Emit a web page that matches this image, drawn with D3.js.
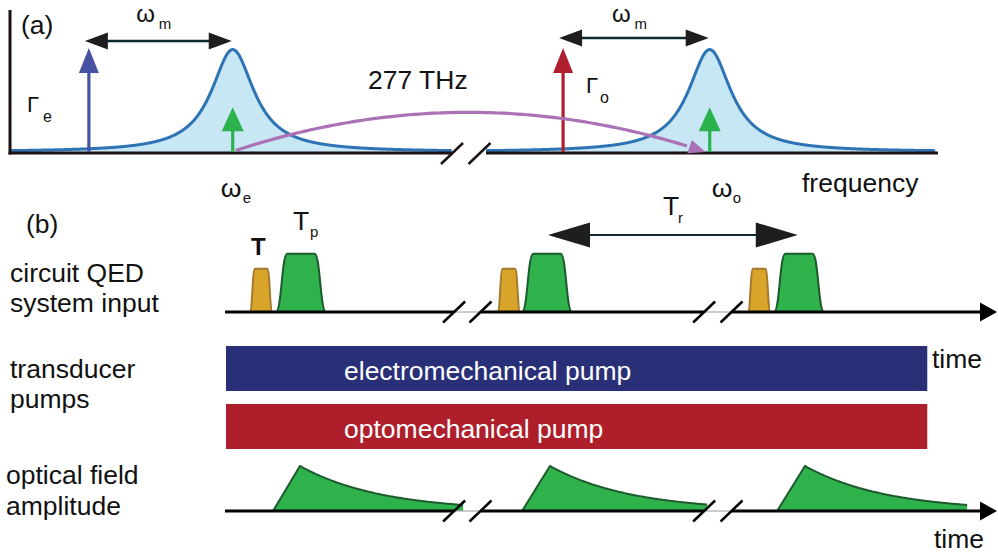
<!DOCTYPE html>
<html>
<head>
<meta charset="utf-8">
<script src="https://cdn.jsdelivr.net/npm/d3@7"></script>
<style>
  body { margin: 0; background: #fff; }
  svg { display: block; }
  text { font-family: "Liberation Sans", Arial, Helvetica, sans-serif; fill: #111; }
</style>
</head>
<body>
<svg id="fig" width="998" height="554"></svg>
<script>
// ---------- (a) spectrum, frequency in arbitrary units ----------
const modeSubs = ["e", "o"];              // electrical / optical mode
const modeCenters = [24.0, 75.4];
const modeWidths = [2.8, 2.8];            // half width at half maximum
const modePeak = 0.985;
const pumpSubs = ["e", "o"];
const pumpFreqs = [8.5, 59.6];            // red-detuned pumps, one ωm below each mode
const pumpHeight = 1.0;
const signalHeight = 0.43;
const couplingLift = 0.755;               // bow of the 277 THz conversion arc
const freqBreak = [47.6, 51.3];
const freqEnd = 99.7;
const spectrumLabel = "277 THz";

// ---------- (b) timing, time in arbitrary units ----------
const timeEnd = 31;
const timeBreaks = [[9.2, 10.26], [19.24, 20.34]];
const qubitPulseStarts = [1.0, 10.95, 21.0];     // short "T" pulse
const qubitPulseWidth = 0.9;
const qubitPulseHeight = 0.72;
const swapPulseStarts = [2.05, 11.93, 22.05];    // "Tp" pulse
const swapPulseWidth = 2.0;
const swapPulseHeight = 0.97;
const emissionStarts = [1.93, 11.93, 22.17];
const emissionPeaks = [3.01, 13.05, 23.29];
const emissionEnds = [9.56, 19.36, 29.8];
const emissionHeight = 0.75;
const emissionDecay = 3.25;
const pumpSpan = [0.04, 28.2];
const pumpNames = ["electromechanical pump", "optomechanical pump"];
const repetition = [12.97, 23.0];                 // Tr
const rowLabels = [["circuit QED", "system input"], ["transducer", "pumps"], ["optical field", "amplitude"]];

// ---------- styles ----------
const C = {
  ink: "#111", axis: "#1a1214", curve: "#2e74b5", fill: "#c6e7f3",
  pumpE: "#4752a2", pumpO: "#b01f2e", signal: "#2bb24c", arc: "#ab72b6",
  span: "#0e2a30", head: "#1e1e1e",
  gold: "#d9a42a", goldEdge: "#a47a30", green: "#2fb24c", greenEdge: "#1d5a2e",
  barE: "#2a3077", barO: "#ae1f2b", grey: "#aaa"
};
const FS = 26.5;
const svg = d3.select("#fig");

function txt(x, y, s, size, opts = {}) {
  const t = svg.append("text").attr("x", x).attr("y", y).attr("font-size", size).text(s);
  if (opts.weight) t.attr("font-weight", opts.weight);
  if (opts.fill) t.style("fill", opts.fill);
  return t;
}
function line(x1, y1, x2, y2, color, w) {
  return svg.append("line").attr("x1", x1).attr("y1", y1).attr("x2", x2).attr("y2", y2)
    .attr("stroke", color).attr("stroke-width", w);
}
function tri(pts, color) {
  svg.append("path").attr("d", "M" + pts.map(p => p.join(",")).join("L") + "Z").attr("fill", color);
}
// vertical arrow pointing up
function upArrow(x, yBase, yTip, color, headLen, headHalf, w) {
  line(x, yBase, x, yTip + headLen - 1, color, w);
  tri([[x, yTip], [x - headHalf, yTip + headLen], [x + headHalf, yTip + headLen]], color);
}
// horizontal double arrow
function spanArrow(x1, x2, y, lineColor, headColor, headLen, headHalf, w) {
  line(x1 + headLen - 1, y, x2 - headLen + 1, y, lineColor, w);
  tri([[x1, y], [x1 + headLen, y - headHalf], [x1 + headLen, y + headHalf]], headColor);
  tri([[x2, y], [x2 - headLen, y - headHalf], [x2 - headLen, y + headHalf]], headColor);
}
function slash(cx, cy, color) {
  line(cx - 11, cy + 10.5, cx + 11, cy - 10.5, color, 2.5);
}

// ================= panel (a) =================
const fx = d3.scaleLinear().domain([0, 100]).range([10, 938]);
const fy = d3.scaleLinear().domain([0, 1]).range([152, 48]);
const axisY = 153;

const lorentz = (f, c, g) => modePeak / (1 + ((f - c) / g) ** 2);
const pieces = [[0, freqBreak[0]], [freqBreak[1], freqEnd]];
pieces.forEach((p, i) => {
  const pts = d3.range(p[0], p[1], 0.05).concat([p[1]])
    .map(f => [f, lorentz(f, modeCenters[i], modeWidths[i])]);
  svg.append("path").datum(pts)
    .attr("d", d3.area().x(d => fx(d[0])).y0(axisY).y1(d => fy(d[1])))
    .attr("fill", C.fill);
  svg.append("path").datum(pts)
    .attr("d", d3.line().x(d => fx(d[0])).y(d => fy(d[1])))
    .attr("fill", "none").attr("stroke", C.curve).attr("stroke-width", 3);
});

// axes
line(fx(0), 10, fx(0), axisY + 1.5, C.axis, 3);
line(fx(0) - 1.5, axisY, fx(freqBreak[0]), axisY, C.axis, 3);
line(fx(freqBreak[1]), axisY, fx(100), axisY, C.axis, 3);
slash(452, axisY + 0.5, C.axis);
slash(479.5, axisY + 0.5, C.axis);

// pump tones
const pumpColors = [C.pumpE, C.pumpO];
pumpFreqs.forEach((f, i) => upArrow(fx(f), fy(0), fy(pumpHeight), pumpColors[i], 25, 10, 3.2));

// mechanical frequency spans
const spanY = [41, 38];
pumpFreqs.forEach((f, i) => {
  const x1 = fx(f) - 4, x2 = fx(modeCenters[i]) - 1;
  spanArrow(x1, x2, spanY[i], C.span, C.head, 23, 8.5, 2.6);
  const mid = (x1 + x2) / 2;
  txt(mid - 22, 22, "\u03c9", 24);
  txt(mid + 0.5, 29, "m", 15);
});

// pump labels
txt(27, 112, "\u0393", 22); txt(43, 122, pumpSubs[0], 16);
txt(586, 93, "\u0393", 22); txt(600, 103, pumpSubs[1], 16);

// conversion arc from ωe to ωo
{
  const p0 = [fx(modeCenters[0]) + 3, fy(0.015)];
  const p2 = [fx(modeCenters[1]) - 4, fy(0)];
  const pc = [(p0[0] + p2[0]) / 2, fy(couplingLift)];
  const bez = t => [
    (1 - t) ** 2 * p0[0] + 2 * t * (1 - t) * pc[0] + t * t * p2[0],
    (1 - t) ** 2 * p0[1] + 2 * t * (1 - t) * pc[1] + t * t * p2[1]
  ];
  const pts = d3.range(0, 0.965, 0.01).map(bez);
  svg.append("path").attr("d", d3.line()(pts)).attr("fill", "none")
    .attr("stroke", C.arc).attr("stroke-width", 3.2);
  const ang = Math.atan2(p2[1] - pc[1], p2[0] - pc[0]);
  const L = 17, Hh = 7;
  const bx = p2[0] - L * Math.cos(ang), by = p2[1] - L * Math.sin(ang);
  tri([p2, [bx + Hh * Math.sin(ang), by - Hh * Math.cos(ang)], [bx - Hh * Math.sin(ang), by + Hh * Math.cos(ang)]], C.arc);
}

// signal tones at the mode centres
modeCenters.forEach(c => upArrow(fx(c), fy(0), fy(signalHeight), C.signal, 24, 11, 3.2));

// labels
txt(21, 34, "(a)", FS);
txt(368, 89, spectrumLabel, FS);
txt(fx(modeCenters[0]) - 12, 197, "\u03c9", FS); txt(fx(modeCenters[0]) + 10, 203, modeSubs[0], 15);
txt(fx(modeCenters[1]) + 2, 197, "\u03c9", FS); txt(fx(modeCenters[1]) + 23, 203, modeSubs[1], 15);
txt(802, 192, "frequency", FS);

// ================= panel (b) =================
const tx = d3.scaleLinear().domain([0, timeEnd]).range([225, 997]);
const amp = d3.scaleLinear().domain([0, 1]).range([0, 60]);
const rowY = [312, null, 511];

function timeAxis(y) {
  const segs = [[0, timeBreaks[0][0]], [timeBreaks[0][1], timeBreaks[1][0]], [timeBreaks[1][1], timeEnd - 0.5]];
  timeBreaks.forEach(b => line(tx(b[0]), y, tx(b[1]), y, C.grey, 1.2));
  segs.forEach(s => line(tx(s[0]), y, tx(s[1]), y, "#000", 3));
  tri([[tx(timeEnd), y], [tx(timeEnd) - 17, y - 9.5], [tx(timeEnd) - 17, y + 9.5]], "#000");
  timeBreaks.forEach(b => { slash(tx(b[0]), y, "#000"); slash(tx(b[1]), y, "#000"); });
}

// flat-topped drive pulse with smooth shoulders
function drivePulse(t0, width, h, rise, y, fill, edge) {
  const x0 = tx(t0), x1 = tx(t0 + width), top = y - amp(h);
  const r = tx(rise) - tx(0);
  const pts = [[x0, y], [x0 + r, top], [x1 - r, top], [x1, y]];
  svg.append("path").attr("d", d3.line().curve(d3.curveBumpX)(pts))
    .attr("fill", fill).attr("stroke", edge).attr("stroke-width", 2).attr("stroke-linejoin", "round");
}

// row 1: circuit QED input
qubitPulseStarts.forEach(t => drivePulse(t, qubitPulseWidth, qubitPulseHeight, 0.2, rowY[0], C.gold, C.goldEdge));
swapPulseStarts.forEach(t => drivePulse(t, swapPulseWidth, swapPulseHeight, 0.45, rowY[0], C.green, C.greenEdge));
timeAxis(rowY[0]);

// Tr span
spanArrow(tx(repetition[0]), tx(repetition[1]), 235, C.span, C.head, 42, 12.5, 2.2);
txt(663, 215, "T", FS); txt(678, 223, "r", 15);
txt(251, 255, "T", 24, { weight: "bold" });
txt(293, 230, "T", FS); txt(310, 237, "p", 15);
txt(26, 233, "(b)", FS);

// row 2: transducer pumps
const barTop = [346, 404], barH = 45;
pumpNames.forEach((n, i) => {
  svg.append("rect").attr("x", tx(pumpSpan[0])).attr("y", barTop[i])
    .attr("width", tx(pumpSpan[1]) - tx(pumpSpan[0])).attr("height", barH)
    .attr("fill", i === 0 ? C.barE : C.barO);
  txt(344, barTop[i] + 34, n, FS, { fill: "#fff" });
});
txt(932, 368, "time", FS);

// row 3: optical output field
emissionStarts.forEach((t0, i) => {
  const y = rowY[2];
  const tp = emissionPeaks[i], te = emissionEnds[i];
  const decay = d3.range(tp, te, 0.05).concat([te])
    .map(t => [tx(t), y - amp(emissionHeight * Math.exp(-(t - tp) / emissionDecay))]);
  const pts = [[tx(t0), y]].concat(decay);
  svg.append("path").attr("d", d3.line()(pts.concat([[tx(te), y]])) + "Z")
    .attr("fill", C.green).attr("stroke", "none");
  svg.append("path").attr("d", d3.line()(pts))
    .attr("fill", "none").attr("stroke", C.greenEdge).attr("stroke-width", 2).attr("stroke-linejoin", "round");
});
timeAxis(rowY[2]);
txt(934, 548, "time", FS);

// row labels
const labelPos = [[10, 282, 312], [10, 378, 408], [6, 484, 515]];
rowLabels.forEach((l, i) => {
  txt(labelPos[i][0], labelPos[i][1], l[0], FS);
  txt(labelPos[i][0], labelPos[i][2], l[1], FS);
});
</script>
</body>
</html>
